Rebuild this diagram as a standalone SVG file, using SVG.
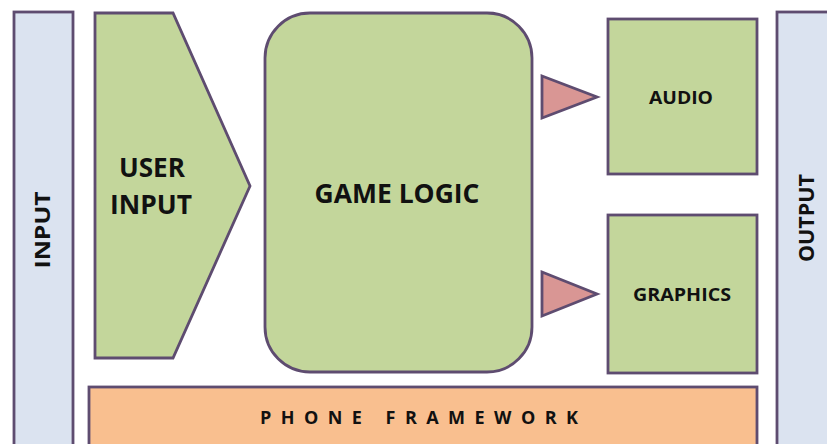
<svg xmlns="http://www.w3.org/2000/svg" width="827" height="444" viewBox="0 0 827 444">
  <style>
    .box { stroke: #5e4c70; stroke-width: 2.8; stroke-linejoin: miter; }
    .green { fill: #c3d69b; }
    .blue { fill: #dbe3f0; }
    .orange { fill: #f9bf8f; }
    .pink { fill: #d99694; }
    .lbl { font-family: "Open Sans", "Liberation Sans", sans-serif; font-weight: bold; fill: #111; text-anchor: middle; }
  </style>
  <rect width="827" height="444" fill="#ffffff"/>

  <g id="input">
    <rect class="box blue" x="14" y="12" width="59" height="450"/>
    <text class="lbl" font-size="22" transform="translate(50 230) rotate(-90)" textLength="77" lengthAdjust="spacingAndGlyphs">INPUT</text>
  </g>

  <g id="output">
    <rect class="box blue" x="777" y="12" width="60" height="450"/>
    <text class="lbl" font-size="22" transform="translate(814 218) rotate(-90)" textLength="88" lengthAdjust="spacingAndGlyphs">OUTPUT</text>
  </g>

  <g id="user-input">
    <polygon class="box green" points="95,13 173,13 250,186 173,358 95,358"/>
    <text class="lbl" font-size="27" x="152" y="177" textLength="66" lengthAdjust="spacingAndGlyphs">USER</text>
    <text class="lbl" font-size="27" x="151" y="214" textLength="82" lengthAdjust="spacingAndGlyphs">INPUT</text>
  </g>

  <g id="game-logic">
    <rect class="box green" x="265" y="13" width="267" height="359" rx="45" ry="45"/>
    <text class="lbl" font-size="27" x="397" y="203" textLength="165" lengthAdjust="spacingAndGlyphs">GAME LOGIC</text>
  </g>

  <g id="audio">
    <rect class="box green" x="608" y="19" width="149" height="155"/>
    <text class="lbl" font-size="18" x="681" y="104" textLength="64" lengthAdjust="spacingAndGlyphs">AUDIO</text>
  </g>

  <g id="graphics">
    <rect class="box green" x="608" y="215" width="149" height="158"/>
    <text class="lbl" font-size="18" x="682" y="301" textLength="98" lengthAdjust="spacingAndGlyphs">GRAPHICS</text>
  </g>

  <g id="phone-framework">
    <rect class="box orange" x="89" y="387" width="668" height="80"/>
    <text class="lbl" font-size="18" x="419" y="424" textLength="318" lengthAdjust="spacing">PHONE FRAMEWORK</text>
  </g>

  <g id="connectors">
    <polygon class="box pink" points="542,76 597,97 542,118"/>
    <polygon class="box pink" points="542,272 597,294 542,316"/>
  </g>
</svg>
